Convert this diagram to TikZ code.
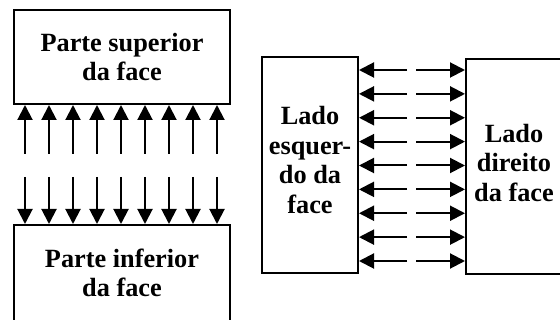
\documentclass[tikz,border=0pt]{standalone}
\usepackage{fontspec}
\setmainfont{Liberation Serif}
\usetikzlibrary{arrows.meta}
\begin{document}
\begin{tikzpicture}[x=1pt,y=-1pt,
  facebox/.style={draw=black,line width=2pt,rectangle,align=center,inner sep=0pt,
    font=\fontsize{26.3}{29.5}\selectfont\bfseries},
  arr/.style={line width=2pt,-{Triangle[length=15pt,width=15pt]}}]
\useasboundingbox (0,0) rectangle (560,320);
\node[facebox,minimum width=216pt,minimum height=94pt] (top) at (122,57) {Parte superior\\da face};
\node[facebox,minimum width=216pt,minimum height=96pt] (bottom) at (122,273) {Parte inferior\\da face};
\node[facebox,minimum width=96pt,minimum height=216pt,text depth=10pt] (left) at (310,165) {Lado\\esquer-\\do da\\face};
\node[facebox,minimum width=96pt,minimum height=215pt,text depth=8pt] (right) at (514,166.5) {Lado\\direito\\da face};
\foreach \i in {0,...,8}{
  \coordinate (u\i) at ({25+24*\i},154);
  \coordinate (d\i) at ({25+24*\i},177);
  \draw[arr] (u\i) -- (u\i |- top.south);
  \draw[arr] (d\i) -- (d\i |- bottom.north);
  \coordinate (l\i) at (407,{70+23.875*\i});
  \coordinate (r\i) at (416,{70+23.875*\i});
  \draw[arr] (l\i) -- (l\i -| left.east);
  \draw[arr] (r\i) -- (r\i -| right.west);
}
\end{tikzpicture}
\end{document}
